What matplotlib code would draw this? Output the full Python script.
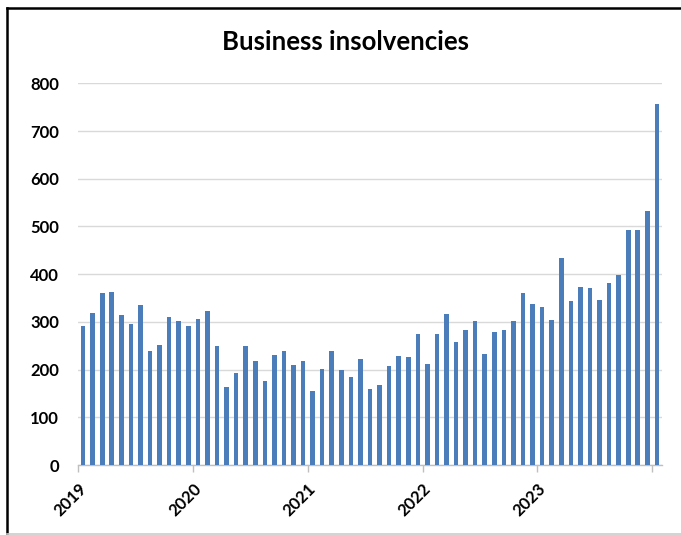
import matplotlib
matplotlib.use("Agg")
import matplotlib.pyplot as plt
from matplotlib.lines import Line2D
import numpy as np

title = "Business insolvencies"
year_labels = ["2019", "2020", "2021", "2022", "2023"]
# monthly values Jan 2019 .. Jan 2024
values = [291, 318, 361, 362, 315, 295, 335, 238, 251, 311, 301, 292,
          307, 323, 250, 164, 192, 249, 218, 177, 231, 240, 210, 217,
          155, 201, 238, 200, 185, 223, 160, 168, 208, 229, 227, 274,
          212, 275, 317, 258, 284, 302, 232, 278, 284, 302, 360, 337,
          331, 304, 433, 343, 373, 372, 346, 382, 399, 492, 492, 532,
          757]
yticks = [0, 100, 200, 300, 400, 500, 600, 700, 800]

plt.rcParams['font.family'] = ['Lato', 'DejaVu Sans']

W, H = 681, 535
fig = plt.figure(figsize=(W / 100, H / 100), dpi=100)
ax = fig.add_axes([78.3 / W, 1 - 465 / H, (661.7 - 78.3) / W, (465 - 83.4) / H])

x = np.arange(len(values))
ax.bar(x, values, width=0.48, color='#4A7DBA', zorder=3)

ax.set_xlim(-0.5, len(values) - 0.5)
ax.set_ylim(0, 800)
ax.set_yticks(yticks)
ax.set_yticklabels([str(v) for v in yticks], fontsize=12, fontweight='bold')
ax.yaxis.grid(True, color='#D9D9D9', linewidth=1, zorder=0)
ax.tick_params(axis='y', length=0, pad=14)

tick_pos = [-0.5 + 12 * i for i in range(len(year_labels) + 1)]
ax.set_xticks(tick_pos)
ax.set_xticklabels(year_labels + [""], rotation=45, ha='right',
                   rotation_mode='anchor', fontsize=12, fontweight='bold')
ax.tick_params(axis='x', length=5, color='#BFBFBF', width=1, pad=6)

for s in ['top', 'right', 'left']:
    ax.spines[s].set_visible(False)
ax.spines['bottom'].set_color('#BFBFBF')
ax.spines['bottom'].set_linewidth(1)

fig.text(346 / W, 1 - 42 / H, title, ha='center', va='center',
         fontsize=18.5, fontweight='bold')

# outer frame
fig.add_artist(Line2D([6.5 / W, 6.5 / W], [0, 1 - 8 / H], color='black', lw=1.8,
                      transform=fig.transFigure))
fig.add_artist(Line2D([6.5 / W, 1], [1 - 8 / H, 1 - 8 / H], color='black', lw=1.8,
                      transform=fig.transFigure))
fig.add_artist(Line2D([6.5 / W, 1], [1 - 533.5 / H, 1 - 533.5 / H], color='#CCCCCC', lw=1.2,
                      transform=fig.transFigure))

fig.savefig("out.png", dpi=100)
